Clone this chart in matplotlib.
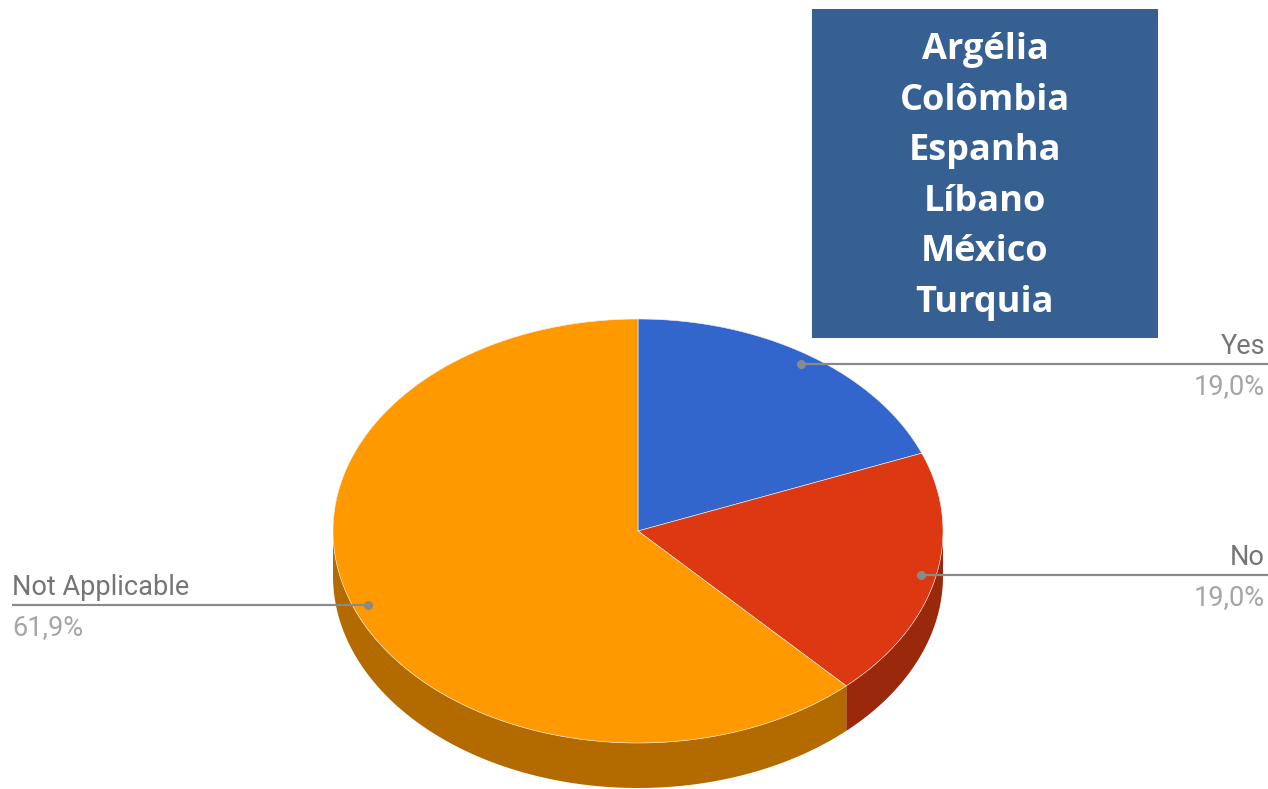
import numpy as np
import matplotlib.pyplot as plt
from matplotlib.patches import Polygon, Rectangle

# data
labels = ['Yes', 'No', 'Not Applicable']
values = [19.0, 19.0, 61.9]
colors = ['#3366CC', '#DC3912', '#FF9900']
side_colors = ['#22448A', '#9A280D', '#B36B00']
countries = ['Argélia', 'Colômbia', 'Espanha', 'Líbano', 'México', 'Turquia']

W, H = 1268, 789
fig = plt.figure(figsize=(W / 100, H / 100), dpi=100)
ax = fig.add_axes([0, 0, 1, 1])
ax.set_xlim(0, W)
ax.set_ylim(H, 0)
ax.axis('off')

# ellipse geometry (pixel space)
cx, cy, rx, ry, depth = 638, 531, 305, 212, 45


def pt(theta, dy=0, k=1.0):
    # theta in degrees, clockwise from 12 o'clock
    t = np.radians(theta)
    return cx + k * rx * np.sin(t), cy - k * ry * np.cos(t) + dy


fracs = np.array(values) / np.sum(values)
bounds = np.concatenate([[0], np.cumsum(fracs) * 360])

# side walls (only front half is visible)
for i in range(len(values)):
    a0, a1 = max(bounds[i], 90), min(bounds[i + 1], 270)
    if a1 <= a0:
        continue
    th = np.linspace(a0, a1, 200)
    top = np.array([pt(t) for t in th])
    bot = np.array([pt(t, depth) for t in th])[::-1]
    ax.add_patch(Polygon(np.vstack([top, bot]), closed=True,
                         facecolor=side_colors[i], edgecolor='none'))

# top face
for i in range(len(values)):
    th = np.linspace(bounds[i], bounds[i + 1], 300)
    arc = np.array([pt(t) for t in th])
    poly = np.vstack([[cx, cy], arc])
    ax.add_patch(Polygon(poly, closed=True, facecolor=colors[i],
                         edgecolor='#f4f4f4', linewidth=0.4))

# leader lines and labels
line_col = '#8a8a8a'
for i, lab in enumerate(labels):
    mid = (bounds[i] + bounds[i + 1]) / 2
    x, y = pt(mid, k=0.95)
    pct = f'{values[i]:.1f}%'.replace('.', ',')
    if mid < 180:
        ax.plot([x, W], [y, y], color=line_col, lw=1.6, solid_capstyle='butt')
        tx, ha = W - 3, 'right'
    else:
        ax.plot([12, x], [y, y], color=line_col, lw=1.6, solid_capstyle='butt')
        tx, ha = 12, 'left'
    ax.plot(x, y, 'o', color=line_col, ms=5.5)
    ax.text(tx, y - 4, lab, ha=ha, va='bottom', fontsize=19.5,
            family='Roboto', color='#757575')
    ax.text(tx, y + 9, pct, ha=ha, va='top', fontsize=19.5,
            family='Roboto', color='#a5a5a5')

# country box
ax.add_patch(Rectangle((812, 9), 346, 329, facecolor='#366092', edgecolor='none'))
for j, c in enumerate(countries):
    ax.text(985, 50 + j * 50.6, c, ha='center', va='center', fontsize=26,
            family='Open Sans', fontweight='bold', color='white')

fig.savefig('out.png', dpi=100)
